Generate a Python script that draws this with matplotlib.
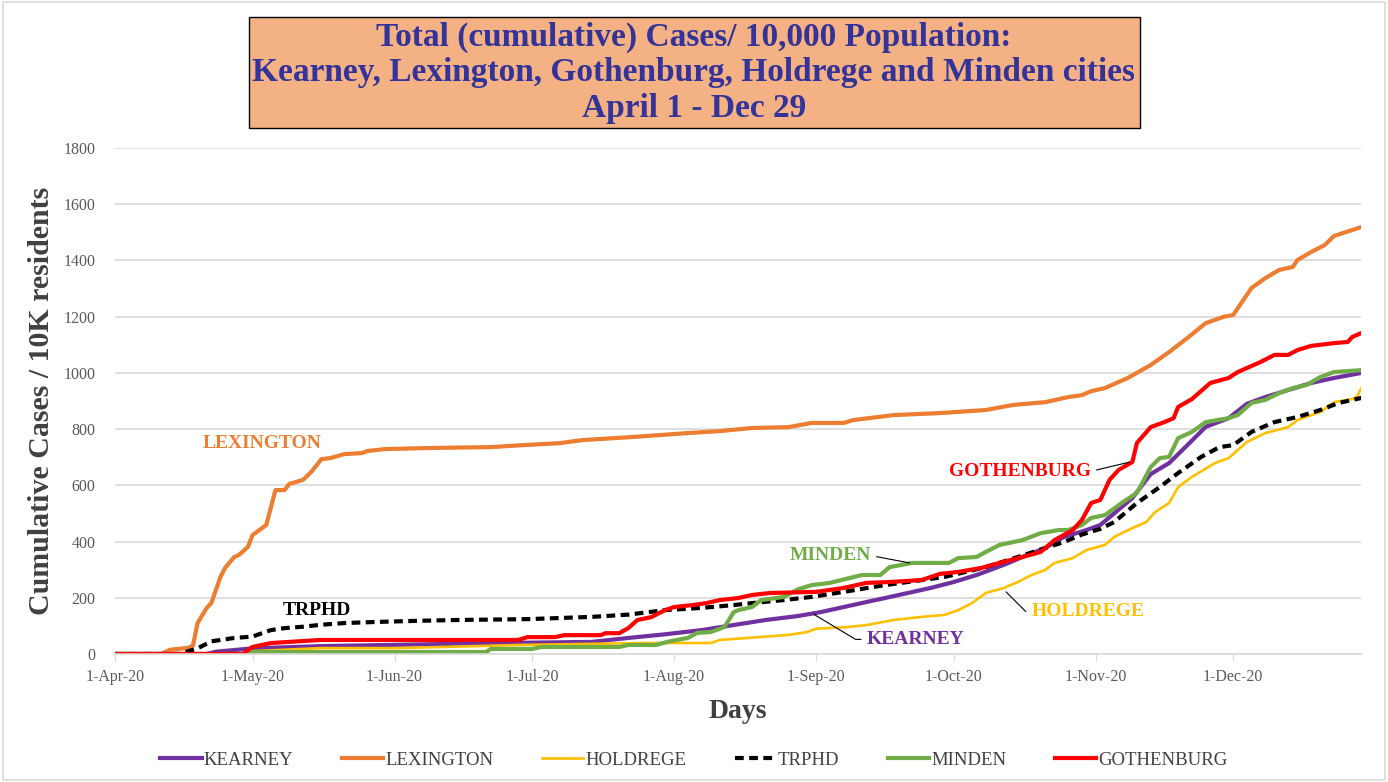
import numpy as np
import matplotlib.pyplot as plt
import matplotlib.dates as mdates
from matplotlib.patches import Rectangle

plt.rcParams['font.family'] = ['Liberation Serif', 'DejaVu Serif']

START = np.datetime64('2020-04-01')

# days since 1-Apr-20 and cumulative cases / 10K residents
kearney_d = [0, 20, 22, 30, 45, 84, 104, 112, 120, 128, 135, 142, 149, 154, 159, 164, 168, 173, 178, 183,
             188, 191, 195, 199, 203, 207, 212, 215, 218, 222, 226, 230, 234, 238, 243, 247, 251, 256, 261, 266, 272]
kearney_v = [0, 0, 8, 20, 28, 39, 43, 57, 70, 85, 103, 121, 135, 149, 167, 185, 199, 217, 235, 256,
             281, 299, 324, 352, 377, 416, 441, 459, 500, 555, 640, 679, 743, 808, 839, 890, 914, 939, 964, 982, 1000]

lexington_d = [0, 10, 12, 16, 17, 18, 20, 21, 23, 24, 26, 27, 29, 30, 33, 35, 37, 38, 41, 43, 45, 47, 50, 54,
               55, 59, 69, 82, 89, 97, 102, 109, 113, 119, 125, 132, 139, 147, 152, 159, 161, 170, 180, 190,
               196, 203, 208, 211, 213, 216, 221, 226, 230, 234, 238, 242, 244, 248, 251, 254, 257, 258,
               261, 264, 266, 272]
lexington_v = [0, 0, 15, 22, 30, 110, 164, 181, 274, 306, 345, 352, 381, 423, 459, 583, 583, 605, 619, 651,
               693, 697, 711, 715, 722, 729, 733, 736, 743, 750, 761, 768, 772, 779, 786, 793, 804, 807, 822,
               822, 832, 850, 857, 868, 886, 896, 914, 921, 935, 946, 982, 1028, 1074, 1124, 1177, 1200,
               1206, 1302, 1337, 1366, 1377, 1401, 1430, 1455, 1487, 1519]

holdrege_d = [0, 28, 30, 45, 62, 88, 116, 130, 132, 138, 147, 151, 153, 160, 164, 170, 176, 181, 184, 187,
              190, 194, 197, 200, 203, 205, 209, 212, 216, 218, 222, 225, 227, 230, 232, 235, 240, 243, 247,
              251, 256, 258, 263, 266, 270, 271, 272]
holdrege_v = [0, 0, 10, 21, 21, 32, 39, 39, 50, 57, 68, 78, 90, 96, 103, 121, 132, 139, 156, 181,
              217, 235, 256, 281, 299, 324, 341, 370, 388, 416, 448, 469, 505, 537, 594, 630, 679, 697, 754,
              786, 807, 832, 861, 896, 907, 915, 946]

trphd_d = [0, 14, 16, 18, 21, 26, 30, 34, 37, 41, 45, 50, 57, 66, 75, 90, 104, 112, 115, 120, 128, 135, 139,
           146, 152, 159, 168, 181, 190, 197, 203, 207, 211, 215, 218, 223, 228, 232, 237, 241, 244, 248,
           253, 258, 263, 267, 272]
trphd_v = [0, 0, 10, 20, 45, 57, 62, 85, 92, 97, 104, 110, 114, 118, 121, 124, 132, 140, 146, 156, 164, 174, 181,
           192, 203, 221, 245, 274, 309, 345, 377, 398, 425, 445, 469, 537, 594, 644, 701, 736, 743, 790,
           825, 843, 868, 893, 911]

minden_d = [0, 28, 30, 62, 81, 82, 91, 93, 110, 112, 118, 121, 125, 127, 130, 133, 135, 136, 139, 141, 146,
            149, 152, 156, 163, 167, 169, 174, 182, 184, 188, 190, 193, 198, 202, 206, 208, 211, 213, 216,
            220, 223, 226, 228, 230, 232, 235, 238, 243, 245, 248, 251, 254, 257, 260, 263, 266, 272]
minden_v = [0, 0, 7, 7, 7, 18, 18, 25, 25, 32, 32, 45, 57, 75, 78, 96, 149, 156, 167, 192, 203,
            230, 245, 253, 281, 281, 309, 324, 324, 341, 345, 363, 388, 405, 430, 441, 441, 459, 484, 494,
            541, 573, 665, 697, 701, 768, 790, 825, 839, 850, 893, 904, 928, 946, 957, 985, 1003, 1010]

gothenburg_d = [0, 28, 29, 30, 34, 38, 45, 88, 90, 96, 98, 106, 107, 110, 112, 114, 117, 120, 122, 126, 129,
                132, 136, 139, 143, 153, 159, 164, 169, 176, 180, 184, 189, 193, 198, 202, 205, 209, 211,
                213, 215, 217, 219, 222, 223, 226, 229, 231, 232, 235, 239, 243, 245, 250, 253, 256, 258,
                261, 266, 269, 270, 272]
gothenburg_v = [0, 0, 14, 25, 39, 43, 50, 50, 60, 60, 67, 67, 74, 74, 92, 121, 131, 156, 167, 174, 181,
                192, 199, 210, 217, 221, 235, 253, 256, 263, 285, 292, 306, 324, 345, 363, 405, 441, 477,
                537, 548, 619, 655, 683, 751, 807, 825, 839, 879, 907, 964, 982, 1003, 1039, 1064, 1064, 1081,
                1096, 1106, 1110, 1128, 1142]

y_ticks = [0, 200, 400, 600, 800, 1000, 1200, 1400, 1600, 1800]


def to_dates(days):
    return START + np.array(days).astype('timedelta64[D]')


def d(n):
    return START + np.timedelta64(n, 'D')


fig = plt.figure(figsize=(13.88, 7.82), dpi=100)
fig.patches.append(Rectangle((0.002, 0.002), 0.996, 0.996, transform=fig.transFigure,
                             fill=False, edgecolor='#D9D9D9', linewidth=1.2))
ax = fig.add_axes([0.0829, 0.1637, 0.898, 0.647])

ax.plot(to_dates(kearney_d), kearney_v, color='#7030A0', lw=3, label='KEARNEY')
ax.plot(to_dates(lexington_d), lexington_v, color='#ED7D31', lw=3, label='LEXINGTON')
ax.plot(to_dates(holdrege_d), holdrege_v, color='#FFC000', lw=1.9, label='HOLDREGE')
ax.plot(to_dates(trphd_d), trphd_v, color='black', lw=3, ls=(0, (2.1, 1.3)), label='TRPHD')
ax.plot(to_dates(minden_d), minden_v, color='#70AD47', lw=3, label='MINDEN')
ax.plot(to_dates(gothenburg_d), gothenburg_v, color='#FF0000', lw=3, label='GOTHENBURG')

ax.set_xlim(START, START + np.timedelta64(272, 'D'))
ax.set_ylim(0, 1800)
ax.set_yticks(y_ticks)
ax.yaxis.grid(True, color='#D9D9D9', lw=1.2)
ax.set_axisbelow(True)
ax.xaxis.set_major_locator(mdates.MonthLocator())
ax.xaxis.set_major_formatter(mdates.DateFormatter('%-d-%b-%y'))
for s in ['left', 'right', 'top']:
    ax.spines[s].set_visible(False)
ax.spines['bottom'].set_color('#D9D9D9')
ax.spines['bottom'].set_linewidth(1.2)
ax.tick_params(axis='x', length=5, color='#D9D9D9', labelsize=11.5, labelcolor='#595959', pad=6)
ax.tick_params(axis='y', length=0, labelsize=11.5, labelcolor='#595959', pad=14)

ax.set_xlabel('Days', fontsize=20, fontweight='bold', color='#404040', labelpad=10)
ax.set_ylabel('Cumulative Cases / 10K residents', fontsize=21.5, fontweight='bold',
              color='#404040', labelpad=6)

# series labels
lab = dict(fontsize=14, fontweight='bold')
ax.text(d(32), 748, 'LEXINGTON', color='#ED7D31', ha='center', va='center', **lab)
ax.text(d(44), 155, 'TRPHD', color='black', ha='center', va='center', **lab)
ax.annotate('MINDEN', xy=(d(174), 322), xytext=(d(165), 350), color='#70AD47',
            ha='right', va='center',
            arrowprops=dict(arrowstyle='-', color='black', lw=0.8, relpos=(1, 0.5)), **lab)
ax.annotate('GOTHENBURG', xy=(d(222), 685), xytext=(d(213), 650), color='#FF0000',
            ha='right', va='center',
            arrowprops=dict(arrowstyle='-', color='black', lw=0.8, relpos=(1, 0.5)), **lab)
ax.annotate('HOLDREGE', xy=(d(194), 228), xytext=(d(200), 152), color='#FFC000',
            ha='left', va='center',
            arrowprops=dict(arrowstyle='-', color='black', lw=0.8, relpos=(0, 0.5), shrinkA=2,
                            connectionstyle='angle,angleA=0,angleB=-45,rad=0'), **lab)
ax.annotate('KEARNEY', xy=(d(152), 146), xytext=(d(164), 52), color='#7030A0',
            ha='left', va='center',
            arrowprops=dict(arrowstyle='-', color='black', lw=0.8, relpos=(0, 0.5), shrinkA=2,
                            connectionstyle='angle,angleA=0,angleB=-31,rad=0'), **lab)

# title box
fig.text(0.5, 0.907, 'Total (cumulative) Cases/ 10,000 Population:\n'
         'Kearney, Lexington, Gothenburg, Holdrege and Minden cities\nApril 1 - Dec 29',
         ha='center', va='center', fontsize=24, fontweight='bold', color='#333399', linespacing=1.2,
         bbox=dict(boxstyle='square,pad=0.12', facecolor='#F4B183', edgecolor='black', lw=1))

leg = fig.legend(loc='lower center', bbox_to_anchor=(0.5, -0.005), ncol=6, frameon=False,
                 fontsize=13.5, handlelength=2.2, handletextpad=0.1, columnspacing=2.6)
for t in leg.get_texts():
    t.set_color('#404040')

fig.savefig('out.png', dpi=100)
